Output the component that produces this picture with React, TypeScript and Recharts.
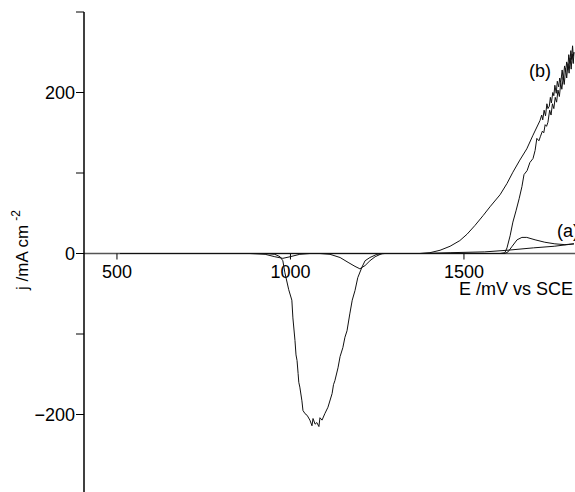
import { LineChart, Line, XAxis, YAxis, ReferenceLine } from 'recharts'

// Cyclic voltammograms: [E / mV vs SCE, j / mA cm-2],
// listed in scan order so each trace closes on itself.
const curveA: [number, number][] = [
  [510, 0], [1373, 0], [1460, 1], [1560, 2], [1624, 4], [1700, 7], [1760, 9], [1817, 12],
  [1791, 11], [1762, 12], [1733, 14], [1705, 17], [1681, 20], [1667, 20], [1653, 17],
  [1639, 9], [1627, 2], [1618, 0], [1264, 0], [1244, -4], [1229, -9], [1215, -15],
  [1200, -19], [1186, -16], [1166, -11], [1143, -5], [1114, -1], [1085, 0], [1056, 0],
  [1027, -1], [999, -4], [978, -6], [955, -4], [927, -1], [883, 0], [510, 0],
]

const curveB: [number, number][] = [
  // forward (anodic) scan
  [510, 0], [1373, 0], [1402, 1], [1431, 4], [1460, 9], [1488, 16], [1509, 24], [1532, 35],
  [1555, 47], [1575, 58], [1604, 73], [1624, 87], [1641, 101], [1661, 116], [1681, 130],
  [1699, 147], [1719, 165], [1724, 172], [1727, 166], [1731, 178], [1735, 171], [1739, 186],
  [1742, 180], [1746, 183], [1749, 194], [1752, 187], [1756, 200], [1759, 196], [1762, 209],
  [1766, 199], [1769, 214], [1773, 207], [1776, 218], [1779, 212], [1783, 228], [1786, 216],
  [1790, 233], [1793, 226], [1796, 238], [1799, 228], [1802, 247], [1805, 236], [1808, 252],
  [1810, 241], [1813, 258], [1815, 245], [1817, 250],
  // reverse scan
  [1815, 236], [1812, 248], [1809, 229], [1806, 243], [1803, 224], [1800, 236], [1796, 218],
  [1793, 230], [1789, 210], [1786, 219], [1782, 204], [1779, 212], [1775, 195], [1771, 203],
  [1767, 188], [1763, 194], [1759, 180], [1755, 186], [1751, 172], [1747, 178], [1742, 163],
  [1738, 158], [1734, 160], [1730, 150], [1726, 152], [1720, 145], [1716, 140], [1710, 143],
  [1705, 128], [1699, 118], [1690, 113], [1682, 103], [1673, 98], [1667, 83], [1659, 68],
  [1650, 53], [1641, 39], [1633, 22], [1624, 7], [1618, 1], [1604, 0], [1272, 0],
  [1249, -1], [1229, -5], [1215, -9], [1206, -17], [1194, -30], [1186, -46], [1178, -58],
  [1171, -75], [1163, -96], [1157, -104], [1151, -117], [1143, -128], [1137, -142],
  [1128, -158], [1124, -163], [1120, -174], [1108, -191], [1099, -199], [1091, -207],
  [1085, -204], [1082, -215], [1076, -210], [1071, -212], [1065, -205], [1062, -214],
  [1056, -207], [1048, -201], [1042, -199], [1036, -195], [1033, -183], [1027, -166],
  [1024, -160], [1022, -149], [1019, -133], [1016, -126], [1013, -108], [1007, -80],
  [1004, -58], [995, -45], [984, -24], [978, -9], [970, -4], [955, -1], [929, 0], [510, 0],
]

const xTicks = [500, 1000, 1500]
const yTicks = [-300, -200, -100, 0, 100, 200, 300]
const yLabelled = [-200, 0, 200]

const FONT = '"Liberation Sans", Arial, Helvetica, sans-serif'

const toRows = (pts: [number, number][]) => pts.map(([v, j]) => ({ v, j }))

// X axis sits on j = 0, which is the vertical middle because the j domain is symmetric.
const xTickShape = (label: number) => (props: any) => {
  const { x1, y1, y2 } = props
  const y0 = (y1 + y2) / 2
  return (
    <g>
      <line x1={x1} x2={x1} y1={y0} y2={y0 + 6} stroke="#000" strokeWidth={1} />
      <text x={x1} y={y0 + 24} textAnchor="middle" fontSize={18} fontFamily={FONT} fill="#000">
        {label}
      </text>
    </g>
  )
}

const fmtY = (v: number) =>
  yLabelled.includes(v) ? (v < 0 ? `\u2212${Math.abs(v)}` : String(v)) : ''

export default function App() {
  return (
    <div style={{ position: 'absolute', left: 0, top: 0, width: 575, height: 492, overflow: 'hidden', background: '#fff' }}>
      <LineChart width={575} height={500} margin={{ top: 12, right: 0, bottom: 5, left: 0 }}>
        <XAxis dataKey="v" type="number" domain={[405, 1820]} hide allowDataOverflow />
        <YAxis
          type="number"
          domain={[-300, 300]}
          ticks={yTicks}
          tickFormatter={fmtY}
          width={84}
          tickSize={8}
          tickMargin={1}
          axisLine={{ stroke: '#000', strokeWidth: 1.5 }}
          tickLine={{ stroke: '#000' }}
          tick={{ fill: '#000', fontSize: 18, fontFamily: FONT }}
          allowDataOverflow
        />
        <ReferenceLine y={0} stroke="#555" strokeWidth={1.5} />
        {xTicks.map((t) => (
          <ReferenceLine key={t} x={t} stroke="none" shape={xTickShape(t)} />
        ))}
        <Line data={toRows(curveA)} dataKey="j" type="linear" stroke="#111" strokeWidth={1} dot={false} isAnimationActive={false} />
        <Line data={toRows(curveB)} dataKey="j" type="linear" stroke="#111" strokeWidth={1} dot={false} isAnimationActive={false} />
      </LineChart>
      <svg width={575} height={492} style={{ position: 'absolute', left: 0, top: 0, pointerEvents: 'none' }}>
        <g fontFamily={FONT} fill="#000">
          <text transform="translate(28,250) rotate(-90)" textAnchor="middle" fontSize={17}>
            j /mA cm
            <tspan fontSize={12} dx={4} dy={-8}>-2</tspan>
          </text>
          <text x={573} y={295} textAnchor="end" fontSize={18}>E /mV vs SCE</text>
          <text x={529} y={77} fontSize={18}>(b)</text>
          <text x={557} y={237} fontSize={18}>(a)</text>
        </g>
      </svg>
    </div>
  )
}
